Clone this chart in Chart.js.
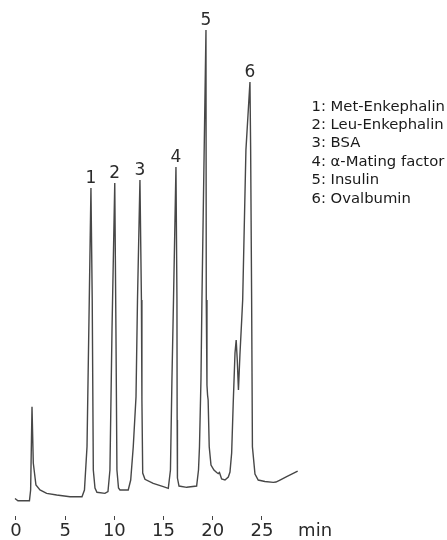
<!DOCTYPE html>
<html>
<head>
<meta charset="utf-8">
<script src="https://cdn.jsdelivr.net/npm/chart.js@4.4.1/dist/chart.umd.min.js"></script>
<style>
  html, body { margin: 0; padding: 0; background: #fff; }
  canvas { display: block; }
</style>
</head>
<body>
<canvas id="myChart" width="447" height="540"></canvas>
<script>
// retention time (min) and detector response (% of largest peak)
const times = [
  -0.10, 0.20, 1.37, 1.49, 1.63, 1.76, 2.03, 2.44, 3.12, 4.14, 5.49, 6.71,
  6.96, 7.22, 7.45, 7.62, 7.75, 7.86, 8.03, 8.23, 9.04, 9.35,
  9.55, 9.76, 10.04, 10.16, 10.26, 10.42, 10.57, 11.41,
  11.66, 11.92, 12.20, 12.35, 12.60, 12.75, 12.80, 12.88, 13.11, 13.95, 14.97, 15.48,
  15.70, 15.85, 16.01, 16.26, 16.36, 16.38, 16.41, 16.57, 17.35, 18.36,
  18.55, 18.65, 18.80, 18.90, 19.31, 19.34, 19.41, 19.47, 19.53, 19.64, 19.82,
  20.12, 20.40, 20.56, 20.68, 20.90, 21.24, 21.58, 21.75, 21.92, 22.08, 22.26,
  22.38, 22.49, 22.61, 22.76, 22.94, 23.04, 23.37, 23.78, 23.85, 23.95, 24.03,
  24.29, 24.62, 25.30, 26.15, 26.42, 26.83, 27.51, 28.63
];
const signal = [
  0.53, 0.06, 0.06, 2.34, 20.02, 8.07, 3.40, 2.34, 1.63, 1.27, 0.91, 0.91,
  2.34, 11.53, 42.68, 66.45, 42.68, 6.58, 2.76, 1.85, 1.63, 2.02,
  6.58, 36.31, 67.52, 36.31, 6.58, 2.76, 2.34, 2.34,
  4.46, 11.53, 22.14, 42.68, 68.15, 42.68, 21.44, 5.94, 4.61, 3.76, 3.04, 2.70,
  6.58, 25.69, 42.68, 70.91, 42.68, 17.20, 4.88, 3.18, 2.91, 3.18,
  6.58, 11.53, 25.69, 42.68, 100.0, 42.68, 24.63, 22.51, 21.44, 11.53, 7.64,
  6.58, 6.05, 5.84, 6.05, 4.67, 4.46, 5.10, 6.16, 10.19, 20.81, 31.42,
  34.18, 29.94, 23.57, 31.00, 38.43, 42.68, 74.52, 88.96, 74.52, 42.68, 11.53,
  5.73, 4.46, 4.14, 3.97, 4.03, 4.46, 5.16, 6.37
];

const peakLabels = ['1', '2', '3', '4', '5', '6'];
const peakTimes = [7.62, 10.04, 12.60, 16.26, 19.31, 23.78];
const peakHeights = [66.45, 67.52, 68.15, 70.91, 100.0, 88.96];

const compounds = [
  '1: Met-Enkephalin',
  '2: Leu-Enkephalin',
  '3: BSA',
  '4: \u03b1-Mating factor',
  '5: Insulin',
  '6: Ovalbumin'
];

const xTicks = [0, 5, 10, 15, 20, 25];
const unitLabel = 'min';
const unitPos = 30.4;

const FONT = '"DejaVu Sans", sans-serif';

// numbers over each peak
const peakNumbers = {
  id: 'peakNumbers',
  afterDatasetsDraw(chart) {
    const { ctx, scales } = chart;
    ctx.save();
    ctx.font = '17px ' + FONT;
    ctx.fillStyle = '#2a2a2a';
    ctx.textAlign = 'center';
    ctx.textBaseline = 'alphabetic';
    peakLabels.forEach((lab, i) => {
      const x = scales.x.getPixelForValue(peakTimes[i]);
      const y = scales.y.getPixelForValue(peakHeights[i]) - 5;
      ctx.fillText(lab, x, y);
    });
    ctx.restore();
  }
};

// list of compounds on the right
const compoundList = {
  id: 'compoundList',
  afterDraw(chart) {
    const { ctx } = chart;
    ctx.save();
    ctx.font = '14.8px ' + FONT;
    ctx.fillStyle = '#1a1a1a';
    ctx.textAlign = 'left';
    ctx.textBaseline = 'alphabetic';
    compounds.forEach((txt, i) => {
      ctx.fillText(txt, 311.5, 110.5 + i * 18.4);
    });
    ctx.restore();
  }
};

const ctx = document.getElementById('myChart').getContext('2d');
new Chart(ctx, {
  type: 'line',
  data: {
    datasets: [{
      data: times.map((t, i) => ({ x: t, y: signal[i] })),
      borderColor: '#474747',
      borderWidth: 1.4,
      pointRadius: 0,
      tension: 0,
      fill: false
    }]
  },
  options: {
    responsive: false,
    animation: false,
    devicePixelRatio: 1,
    layout: { padding: { left: 14, right: 126, top: 10, bottom: 0 } },
    plugins: {
      legend: { display: false },
      tooltip: { enabled: false }
    },
    scales: {
      x: {
        type: 'linear',
        min: -0.2,
        max: 31.0,
        border: { display: false },
        grid: {
          drawOnChartArea: false,
          drawTicks: true,
          tickLength: 4,
          tickColor: (c) => (c.tick && c.tick.value === unitPos) ? 'rgba(0,0,0,0)' : '#444',
          lineWidth: 1
        },
        afterBuildTicks: (scale) => {
          scale.ticks = xTicks.concat([unitPos]).map(v => ({ value: v }));
        },
        afterFit: (scale) => { scale.height = 24; },
        ticks: {
          autoSkip: false,
          maxRotation: 0,
          padding: 1,
          color: '#2a2a2a',
          font: { family: FONT, size: 18 },
          callback: (v) => v === unitPos ? unitLabel : v
        }
      },
      y: {
        display: false,
        min: -3.18,
        max: 104.25
      }
    }
  },
  plugins: [peakNumbers, compoundList]
});
</script>
</body>
</html>
